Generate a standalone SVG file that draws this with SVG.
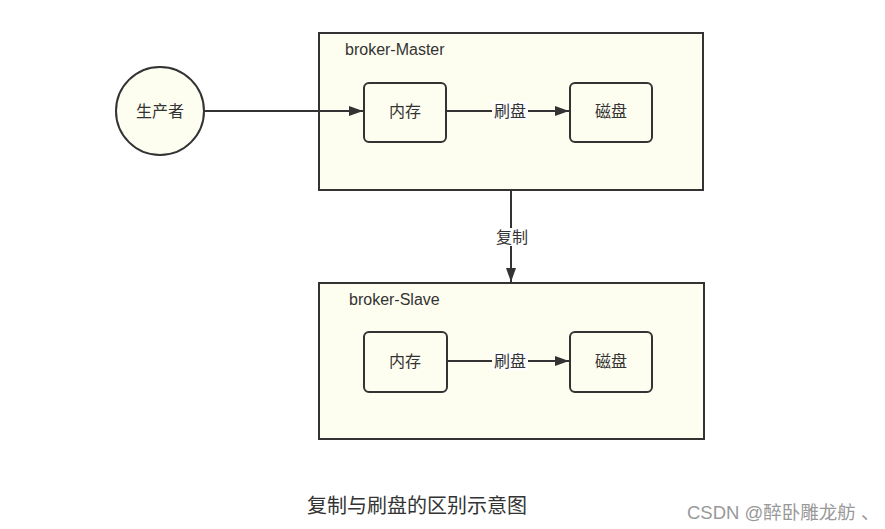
<svg xmlns="http://www.w3.org/2000/svg" width="885" height="529" viewBox="0 0 885 529">
<style>
.box{fill:#fefef0;stroke:#333;stroke-width:2}
.t{font-family:"Liberation Sans","Noto Sans CJK SC",sans-serif;font-size:16px;fill:#333}
.c{text-anchor:middle;dominant-baseline:central}
.ln{stroke:#333;stroke-width:2;fill:none}
</style>
<defs>
<marker id="ah" markerWidth="15" markerHeight="11" refX="14" refY="5.5" orient="auto" markerUnits="userSpaceOnUse">
<path d="M0,0.5 L14,5.5 L0,10.5 Z" fill="#333"/>
</marker>
</defs>
<rect width="885" height="529" fill="#fff"/>
<g id="master">
<rect class="box" x="319" y="33" width="384" height="157"/>
<text class="t" x="345" y="49" dominant-baseline="central">broker-Master</text>
</g>
<g id="slave">
<rect class="box" x="319" y="283" width="385" height="156"/>
<text class="t" x="349" y="299" dominant-baseline="central">broker-Slave</text>
</g>
<g id="producer">
<circle class="box" cx="160" cy="111" r="44"/>
<text class="t c" x="160" y="111">生产者</text>
</g>
<g id="m-mem">
<rect class="box" x="364" y="83" width="82" height="59" rx="5"/>
<text class="t c" x="405" y="111">内存</text>
</g>
<g id="m-disk">
<rect class="box" x="570" y="83" width="82" height="59" rx="5"/>
<text class="t c" x="611" y="111">磁盘</text>
</g>
<g id="s-mem">
<rect class="box" x="364" y="332" width="83" height="60" rx="5"/>
<text class="t c" x="405" y="361">内存</text>
</g>
<g id="s-disk">
<rect class="box" x="570" y="332" width="82" height="60" rx="5"/>
<text class="t c" x="611" y="361">磁盘</text>
</g>
<g id="connectors">
<line class="ln" x1="204" y1="111" x2="363" y2="111" marker-end="url(#ah)"/>
<line class="ln" x1="446" y1="111" x2="569" y2="111" marker-end="url(#ah)"/>
<rect x="492" y="102" width="36" height="18" fill="#fff"/>
<text class="t c" x="510" y="111">刷盘</text>
<line class="ln" x1="447" y1="361" x2="569" y2="361" marker-end="url(#ah)"/>
<rect x="492" y="352" width="36" height="18" fill="#fff"/>
<text class="t c" x="510" y="361">刷盘</text>
<line class="ln" x1="511" y1="190" x2="511" y2="282" marker-end="url(#ah)"/>
<rect x="494" y="228" width="36" height="18" fill="#fff"/>
<text class="t c" x="512" y="237">复制</text>
</g>
<text x="307" y="506" font-family="Liberation Sans,'Noto Sans CJK SC',sans-serif" font-size="20" fill="#333" dominant-baseline="central">复制与刷盘的区别示意图</text>
<text x="687" y="512" font-family="Liberation Sans,'Noto Sans CJK SC',sans-serif" font-size="18.5" fill="#999" dominant-baseline="central">CSDN @醉卧雕龙舫 、</text>
</svg>
